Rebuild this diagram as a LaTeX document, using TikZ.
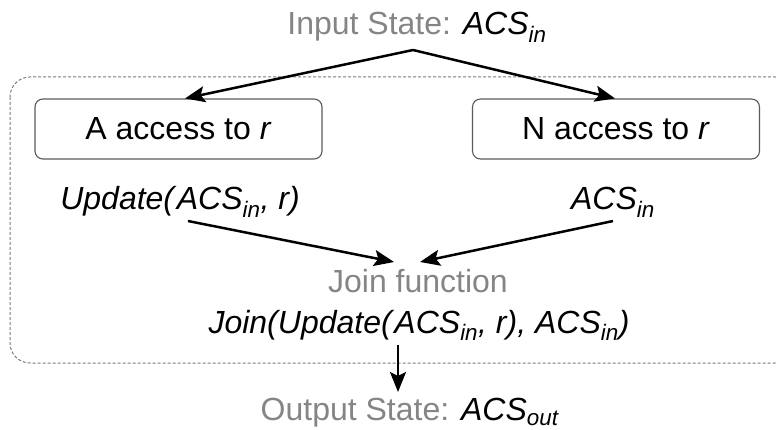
\documentclass[tikz,border=0pt]{standalone}
\usepackage{fontspec}
\setmainfont{Liberation Sans}
\usetikzlibrary{arrows.meta}
\definecolor{labelgray}{HTML}{858585}
\definecolor{boxgray}{HTML}{5A5A5A}
\definecolor{dashgray}{HTML}{7A7A7A}
\newcommand\acsvar[1]{\textit{ACS}\textsubscript{\textit{#1}}}
\tikzset{
  txt/.style={font=\fontsize{32}{36}\selectfont, inner sep=0pt, anchor=base},
  graytxt/.style={txt, text=labelgray},
  accbox/.style={draw=boxgray, line width=1.1pt, rounded corners=8pt,
    minimum width=287pt, minimum height=60pt, inner sep=0pt,
    font=\fontsize{32}{36}\selectfont},
  flow/.style={line width=2.5pt, -{Stealth[length=20pt,width=16pt,inset=4pt]}},
  region/.style={draw=dashgray, line width=1pt, dash pattern=on 3pt off 2pt, rounded corners=20pt}
}
\begin{document}
\begin{tikzpicture}[x=1pt,y=-1pt]
  \useasboundingbox (0,0) rectangle (776,430);
  \clip (0,0) rectangle (776,430);

  % dashed region enclosing the two access branches and the join
  \draw[region] (10,77) rectangle (795,363);

  % input and output states
  \node[graytxt] (in) at (417,35) {Input State: {\color{black}\acsvar{in}}};
  \node[graytxt] (out) at (410,420) {Output State: {\color{black}\acsvar{out}}};

  % access kinds
  \node[accbox] (A) at (178.5,129) {A access to \textit{r}};
  \node[accbox] (N) at (616,129) {N access to \textit{r}};

  % resulting states of each branch
  \node[txt] (upd) at (180,210) {\textit{Update(}\acsvar{in}\textit{, r)}};
  \node[txt] (same) at (613,210) {\acsvar{in}};

  % join
  \node[graytxt] (joinlbl) at (418,292) {Join function};
  \node[txt] (joinexpr) at (419,333) {\textit{Join(Update(}\acsvar{in}\textit{, r), }\acsvar{in}\textit{)}};

  % connectors
  \coordinate (fork) at (413,50);
  \draw[flow] (fork) -- (A.north -| 185,0);
  \draw[flow] (fork) -- (N.north -| 615,0);

  \coordinate (meetL) at (394,262);
  \coordinate (meetR) at (420,262);
  \draw[flow] (upd.base -| 188,0) ++(0,11) -- (meetL);
  \draw[flow] (same.base -| 613,0) ++(0,11) -- (meetR);

  \draw[flow] (joinexpr.base -| 398,0) ++(0,12) -- (398,392);
\end{tikzpicture}
\end{document}
